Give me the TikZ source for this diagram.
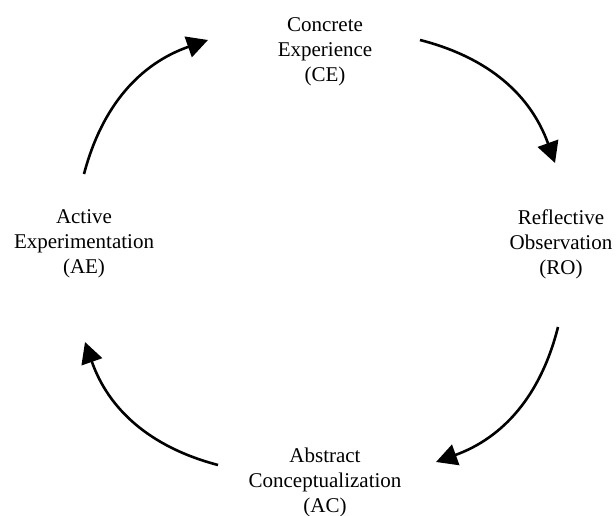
\documentclass[tikz,border=0pt]{standalone}
\usepackage{fontspec}
\setmainfont{Liberation Serif}
\usetikzlibrary{arrows.meta}
\tikzset{
  lbl/.style={anchor=base, inner sep=0pt, font=\fontsize{21}{25}\selectfont},
  cyc/.style={line width=2.6pt, -{Triangle[length=21pt,width=21.5pt]}, bend left=28}
}
\newcommand{\stack}[1]{\begin{tabular}[t]{@{}c@{}}#1\end{tabular}}
\begin{document}
\begin{tikzpicture}[x=1pt,y=1pt]
\useasboundingbox (0,0) rectangle (616,-516);
\node[lbl] (ce) at (325,-32) {\stack{Concrete\\Experience\\(CE)}};
\node[lbl] (ro) at (561,-224) {\stack{Reflective\\Observation\\(RO)}};
\node[lbl] (ac) at (325,-462) {\stack{Abstract\\Conceptualization\\(AC)}};
\node[lbl] (ae) at (84,-223) {\stack{Active\\Experimentation\\(AE)}};
\coordinate (s1) at (420,-40);  \coordinate (t1) at (555,-163);
\coordinate (s2) at (558,-327); \coordinate (t2) at (436,-462);
\coordinate (s3) at (218,-465); \coordinate (t3) at (85,-342);
\coordinate (s4) at (84,-174);  \coordinate (t4) at (208,-40);
\draw[cyc] (s1) to (t1);
\draw[cyc] (s2) to (t2);
\draw[cyc] (s3) to (t3);
\draw[cyc] (s4) to (t4);
\end{tikzpicture}
\end{document}
